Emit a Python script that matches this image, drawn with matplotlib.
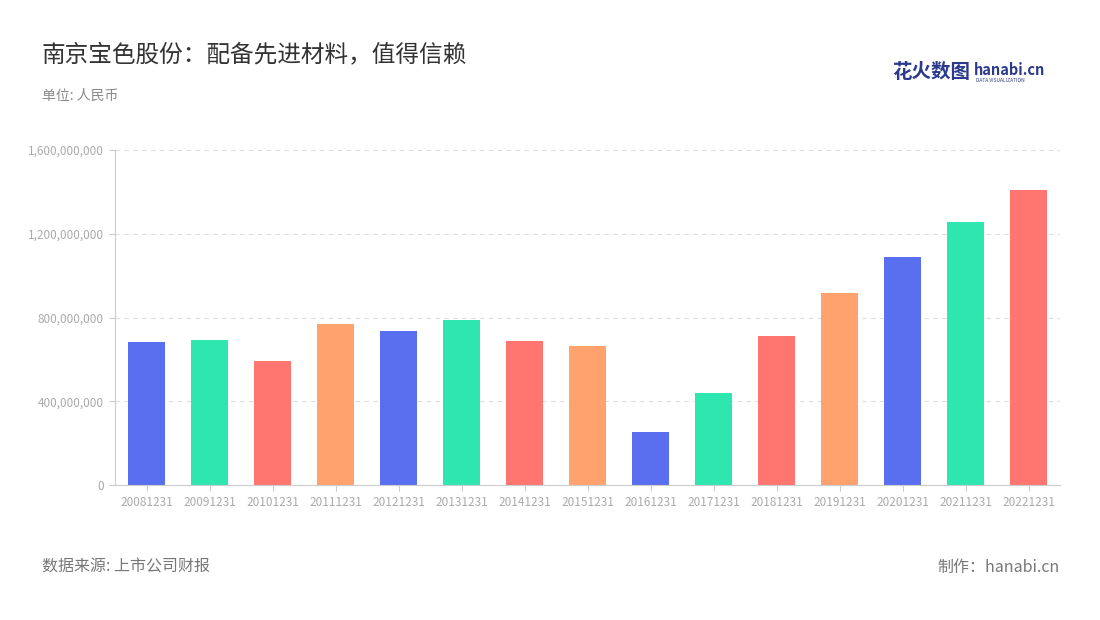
import matplotlib
matplotlib.use("Agg")
import matplotlib.pyplot as plt
from matplotlib.ticker import FuncFormatter

plt.rcParams["font.family"] = ["Noto Sans CJK SC", "DejaVu Sans"]

# data
years = ["20081231", "20091231", "20101231", "20111231", "20121231",
         "20131231", "20141231", "20151231", "20161231", "20171231",
         "20181231", "20191231", "20201231", "20211231", "20221231"]
revenue = [683e6, 692e6, 592e6, 769e6, 735e6, 788e6, 688e6, 664e6,
           253e6, 439e6, 712e6, 917e6, 1089e6, 1256e6, 1409e6]
palette = ["#5A6FEF", "#2EE6B0", "#FF7670", "#FFA26E"]
yticks = [0, 400e6, 800e6, 1200e6, 1600e6]

W, H = 1100, 620
fig = plt.figure(figsize=(W / 100, H / 100), dpi=100)
ax = fig.add_axes([115 / W, 1 - 485 / H, (1060 - 115) / W, (485 - 150) / H])

colors = [palette[i % 4] for i in range(len(years))]
ax.bar(range(len(years)), revenue, width=0.6, color=colors, zorder=2)
ax.set_xlim(-0.5, len(years) - 0.5)
ax.set_ylim(0, 1.6e9)
ax.set_yticks(yticks)
ax.yaxis.set_major_formatter(FuncFormatter(lambda v, p: f"{int(v):,}"))
ax.set_xticks(range(len(years)))
ax.set_xticklabels(years)
ax.tick_params(axis="both", colors="#CCCCCC", labelcolor="#AAAAAA",
               labelsize=8.5, length=4, pad=4)
ax.grid(axis="y", color="#DDDDDD", linestyle=(0, (4, 4)), lw=0.8, zorder=0)
for s in ["top", "right"]:
    ax.spines[s].set_visible(False)
ax.spines["left"].set_color("#CCCCCC")
ax.spines["bottom"].set_color("#CCCCCC")

fig.text(42 / W, 1 - 55 / H, "南京宝色股份：配备先进材料，值得信赖", fontsize=17,
         color="#333333", va="center")
fig.text(42 / W, 1 - 96 / H, "单位: 人民币", fontsize=10, color="#888888", va="center")
fig.text(42 / W, 1 - 567 / H, "数据来源: 上市公司财报", fontsize=11.5, color="#777777", va="center")
fig.text(1060 / W, 1 - 567 / H, "制作：hanabi.cn", fontsize=11.5, color="#777777",
         va="center", ha="right")
fig.text(892 / W, 1 - 73 / H, "花火数图", fontsize=14, color="#2B3A8C",
         va="center", fontweight="bold")
fig.text(974 / W, 1 - 70 / H, "hanabi.cn", fontsize=10.5, color="#2B3A8C",
         va="center", fontweight="bold")
fig.text(976 / W, 1 - 81 / H, "DATA VISUALIZATION", fontsize=3.5, color="#2B3A8C", va="center")

fig.savefig("out.png", dpi=100, facecolor="white")
